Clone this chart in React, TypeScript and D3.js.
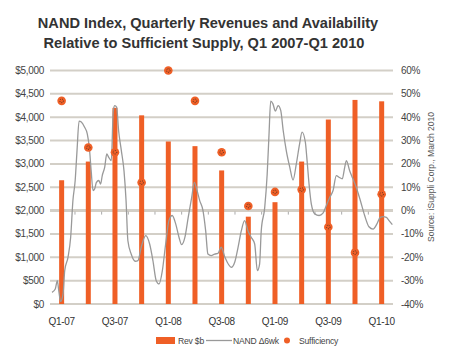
import React from 'react';
import * as d3 from 'd3';

// quarters on the category axis
const quarters = ['Q1-07', 'Q2-07', 'Q3-07', 'Q4-07', 'Q1-08', 'Q2-08', 'Q3-08', 'Q4-08', 'Q1-09', 'Q2-09', 'Q3-09', 'Q4-09', 'Q1-10'];
const tickQuarters = ['Q1-07', 'Q3-07', 'Q1-08', 'Q3-08', 'Q1-09', 'Q3-09', 'Q1-10'];

// revenue, $M (left axis)
const revenue = [2650, 3050, 4200, 4040, 3480, 3380, 2860, 1870, 2180, 3050, 3950, 4370, 4340];
// sufficiency, % (right axis)
const sufficiency = [47, 27, 25, 12, 60, 47, 25, 2, 8, 9, -7, -18, 7];

// NAND delta 6wk, weekly (week since start of Q1-07, %)
const nandWeek = [1.8, 3.4, 4.4, 5.1, 6.0, 7.2, 8.0, 9.6, 10.9, 12.0, 13.1, 14.0, 15.0, 16.1, 17.7, 19.0, 20.0, 20.9, 21.8, 22.6,
  23.4, 24.6, 25.5, 26.3, 27.5, 28.5, 29.4, 30.7, 31.7, 32.4, 33.3, 34.3, 35.6, 36.9, 37.9, 38.8, 40.4, 42.4, 43.7, 45.3,
  47.5, 49.4, 51.0, 52.6, 54.0, 55.6, 57.2, 58.8, 60.4, 62.1, 63.7, 65.0, 66.6, 68.2, 69.9, 71.2, 72.5, 73.8, 75.4, 76.7,
  77.8, 79.4, 81.1, 82.7, 84.3, 86.1, 89.2, 90.9, 92.5, 94.1, 95.7, 97.3, 98.9, 100.6, 101.9, 103.0, 103.8, 105.5, 106.7, 107.6,
  108.4, 109.5, 110.7, 112.0, 113.3, 114.5, 116.0, 117.7, 119.3, 120.9, 122.5, 123.7, 125.3, 126.0, 127.1, 128.2, 129.9, 132.0, 133.9, 135.5,
  137.2, 138.8, 140.4, 141.7, 143.3, 144.5, 145.3, 146.9, 148.5, 150.1, 152.1, 154.2, 156.3, 158.3, 160.2, 161.8, 163.2, 164.8, 166.1, 167.7];
const nandDelta = [-35, -33.6, -30, -34.3, -39, -35.7, -25.7, -20, -11.4, 4.3, 12.9, 25.7, 38.3, 37.9, 35.7, 32.9, 27, 17, 8.6, 9.3,
  12, 12.9, 11.4, 15, 18.6, 24.3, 22.9, 21.4, 42.9, 45, 44.3, 34, 25.7, 17, 4.3, -12.9, -18.6, -21.7, -21.4, -15.7,
  -10.7, -14.3, -21.4, -30, -31.4, -25.7, -14.3, -4.3, -2.1, -5.7, -11.4, -14.6, -11.4, -2.9, 5.7, 12.1, 8.6, 4.3, 0, -8.6,
  -18.6, -19.3, -18.6, -18.3, -15.7, -20, -24.3, -22, -15.7, -8.6, -4.3, -8.6, -11.4, -14.3, -25.7, -22.9, -8.6, 1.4, 15.7, 32.9,
  46.9, 45.7, 42.6, 45, 42.9, 34.3, 25.7, 18.6, 13.1, 20, 28.6, 33.6, 29.3, 22.9, 11.4, 2.9, -1.4, -2.1, -1.1, 2.1,
  5.7, 8.6, 15, 14.3, 13.6, 18.6, 21.4, 17.1, 13.6, 10, 4.3, -2.1, -6.9, -7.9, -5.7, -2.9, -2.6, -2.9, -4.3, -6];

const leftTicks = [0, 500, 1000, 1500, 2000, 2500, 3000, 3500, 4000, 4500, 5000];
const rightTicks = [-40, -30, -20, -10, 0, 10, 20, 30, 40, 50, 60];

const W = 450, H = 353;
const orange = '#ef5f26';
const grid = '#d3cfc7';
const font = 'Liberation Sans, Arial, sans-serif';

const App = () => {
  const x = d3.scaleBand().domain(quarters).range([48.3, 395]).padding(0);
  const xw = d3.scaleLinear().domain([0, 169]).range([48.3, 395]);
  const yL = d3.scaleLinear().domain([0, 5000]).range([304, 70.5]);
  const yR = d3.scaleLinear().domain([-40, 60]).range([304, 70.5]);
  const cx = (q: string) => (x(q) as number) + x.bandwidth() / 2;
  const barW = 5;

  const line = d3.line<number>()
    .x((_, i) => xw(nandWeek[i]))
    .y((d) => yR(d))
    .curve(d3.curveMonotoneX);

  const fmt = d3.format('$,');

  return (
    <svg width={W} height={H} style={{ position: 'absolute', left: 0, top: 0, background: '#fff' }} fontFamily={font}>
      <text x={208} y={27.5} textAnchor="middle" fontSize={14.6} fontWeight="bold" fill="#333">
        NAND Index, Quarterly Revenues and Availability
      </text>
      <text x={204} y={48} textAnchor="middle" fontSize={14.6} fontWeight="bold" fill="#333">
        Relative to Sufficient Supply, Q1 2007-Q1 2010
      </text>

      {/* gridlines */}
      {leftTicks.map((t) => (
        <line key={t} x1={50} x2={393} y1={yL(t)} y2={yL(t)} stroke={grid} strokeWidth={t === 2000 ? 3 : 2} />
      ))}
      {/* small category ticks on the 0% line */}
      {quarters.slice(1).map((q) => (
        <line key={q} x1={x(q) as number} x2={x(q) as number} y1={yR(0) + 1} y2={yR(0) + 4} stroke="#aaa" strokeWidth={1} />
      ))}

      {/* left axis labels */}
      {leftTicks.map((t) => (
        <text key={t} x={44} y={yL(t) + 3.5} textAnchor="end" fontSize={10} fill="#444" letterSpacing={-0.3}>
          {fmt(t)}
        </text>
      ))}
      {/* right axis labels */}
      {rightTicks.map((t) => (
        <text key={t} x={401} y={yR(t) + 3.5} textAnchor="start" fontSize={10} fill="#444" letterSpacing={-0.3}>
          {t}%
        </text>
      ))}

      {/* bars */}
      {revenue.map((v, i) => (
        <rect key={i} x={cx(quarters[i]) - barW / 2} y={yL(v)} width={barW} height={yL(0) - yL(v)} fill={orange} />
      ))}

      {/* NAND line */}
      <path d={line(nandDelta) || ''} fill="none" stroke="#999" strokeWidth={1.3} />

      {/* sufficiency dots */}
      {sufficiency.map((v, i) => (
        <g key={i}>
          <circle cx={cx(quarters[i])} cy={yR(v)} r={4.3} fill={orange} />
          <circle cx={cx(quarters[i])} cy={yR(v)} r={1.8} fill="none" stroke="#222" strokeWidth={0.8} strokeDasharray="0.8 1.2" />
        </g>
      ))}

      {/* x labels */}
      {tickQuarters.map((q) => (
        <text key={q} x={cx(q)} y={324.5} textAnchor="middle" fontSize={10} fill="#333" letterSpacing={-0.3}>
          {q}
        </text>
      ))}

      {/* source */}
      <text transform="translate(434,177) rotate(-90)" textAnchor="middle" fontSize={8.5} fill="#555">
        Source: iSuppli Corp., March 2010
      </text>

      {/* legend */}
      <g fontSize={8.6} fill="#444" letterSpacing={-0.2}>
        <rect x={156} y={337} width={19} height={7} fill={orange} />
        <text x={178} y={343.5}>Rev $b</text>
        <line x1={206} x2={232} y1={340.5} y2={340.5} stroke="#999" strokeWidth={1.3} />
        <text x={233} y={343.5}>NAND Δ6wk</text>
        <circle cx={287} cy={340.5} r={3} fill={orange} />
        <text x={299} y={343.5}>Sufficiency</text>
      </g>
    </svg>
  );
};

export default App;
